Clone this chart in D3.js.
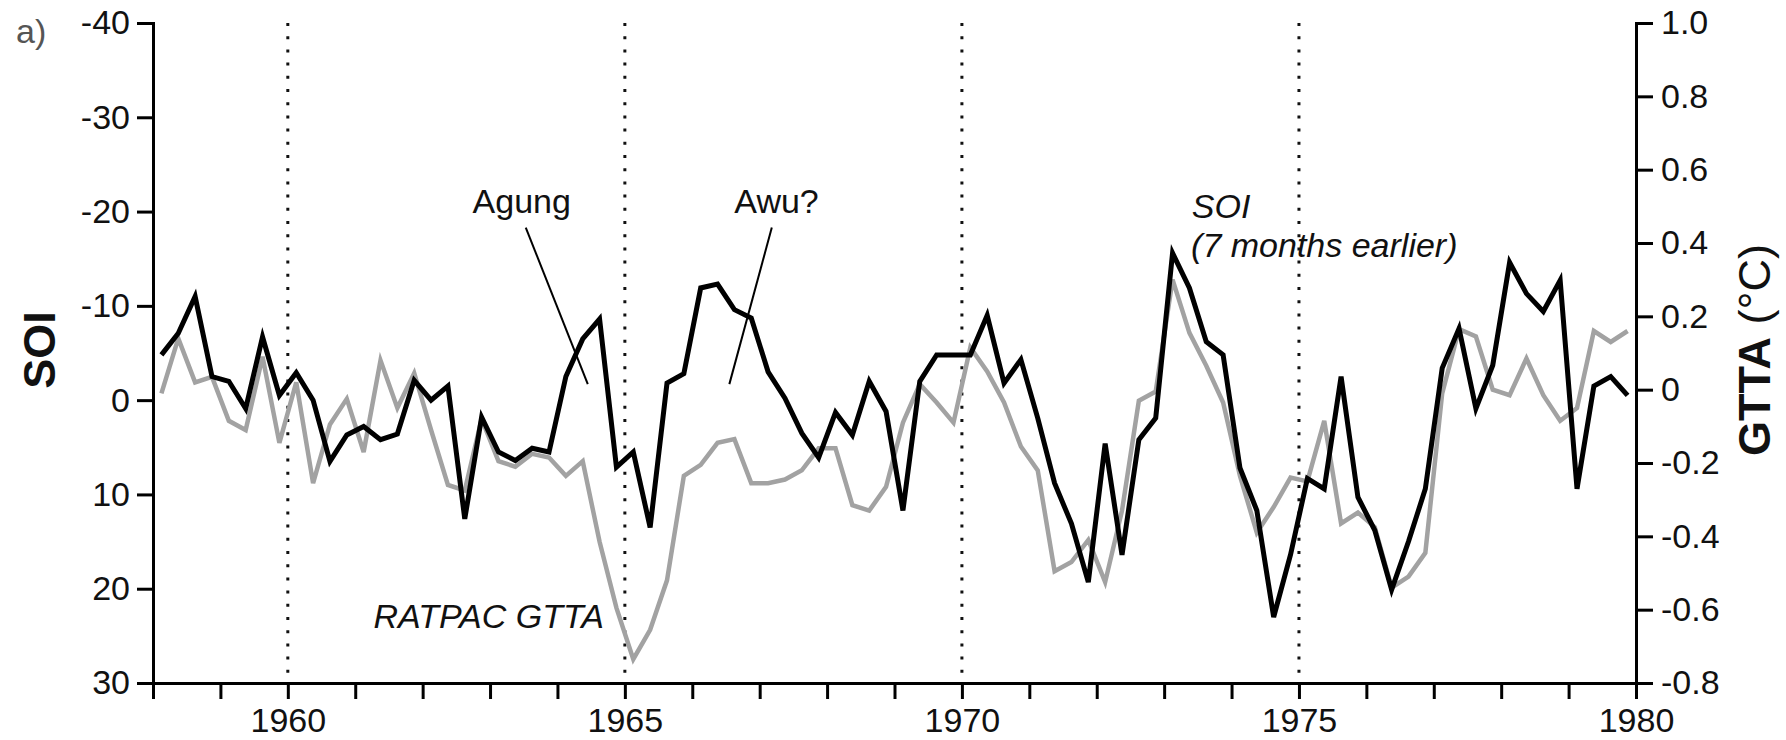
<!DOCTYPE html>
<html>
<head>
<meta charset="utf-8">
<script src="https://cdn.jsdelivr.net/npm/d3@7"></script>
<style>
  body { margin: 0; background: #fff; }
  svg text { font-family: "Liberation Sans", Arial, Helvetica, sans-serif; fill: #111; }
</style>
</head>
<body>
<svg id="chart" width="1786" height="740"></svg>
<script>

// quarterly values, 1958 Q1 .. 1979 Q4
// SOI (7 months earlier), plotted on the inverted left axis
var soi = [
  -4.8, -7.1, -11.0, -2.5,   -2.0, 0.9, -6.7, -0.5,
  -2.9, 0.0, 6.5, 3.7,       2.8, 4.2, 3.6, -2.1,
  0.0, -1.5, 12.6, 1.8,      5.5, 6.4, 5.1, 5.5,
  -2.5, -6.5, -8.6, 7.1,     5.5, 13.5, -1.8, -2.8,
  -11.9, -12.3, -9.6, -8.7,  -3.0, -0.2, 3.5, 6.1,
  1.3, 3.7, -2.0, 1.2,       11.7, -2.0, -4.8, -4.8,
  -4.8, -9.0, -1.8, -4.3,    1.9, 8.8, 13.1, 19.3,
  4.6, 16.4, 4.2, 1.9,       -15.6, -11.9, -6.2, -4.8,
  7.2, 11.7, 23.0, 16.4,     8.3, 9.4, -2.5, 10.3,
  13.8, 20.1, 15.0, 9.4,     -3.4, -7.6, 0.9, -3.7,
  -14.6, -11.3, -9.4, -12.7, 9.4, -1.5, -2.5, -0.5
];

// RATPAC global tropospheric temperature anomaly (right axis, deg C)
var gtta = [
  -0.01, 0.14, 0.02, 0.035,     -0.085, -0.11, 0.09, -0.145,
  0.02, -0.255, -0.095, -0.025, -0.17, 0.08, -0.05, 0.045,
  -0.11, -0.26, -0.275, -0.08,  -0.195, -0.21, -0.175, -0.185,
  -0.235, -0.195, -0.415, -0.595, -0.735, -0.655, -0.52, -0.235,
  -0.205, -0.145, -0.135, -0.255, -0.255, -0.245, -0.22, -0.16,
  -0.16, -0.315, -0.33, -0.265, -0.09, 0.015, -0.035, -0.09,
  0.115, 0.05, -0.035, -0.155,  -0.22, -0.495, -0.47, -0.41,
  -0.525, -0.33, -0.03, -0.005, 0.30, 0.155, 0.065, -0.035,
  -0.235, -0.39, -0.32, -0.24,  -0.25, -0.085, -0.365, -0.335,
  -0.375, -0.54, -0.51, -0.445, -0.01, 0.165, 0.145, 0.0,
  -0.015, 0.085, -0.015, -0.085, -0.05, 0.16, 0.13, 0.16
];

var yearLabels = [1960, 1965, 1970, 1975, 1980];
var soiTicks = [-40, -30, -20, -10, 0, 10, 20, 30];
var gttaTicks = [1.0, 0.8, 0.6, 0.4, 0.2, 0, -0.2, -0.4, -0.6, -0.8];
var dividerYears = [1960, 1965, 1970, 1975];

var svg = d3.select("#chart");

var x = d3.scaleLinear().domain([1958, 1980]).range([153, 1636]);
var ySoi = d3.scaleLinear().domain([-40, 30]).range([23, 683]);
var yTemp = d3.scaleLinear().domain([1.0, -0.8]).range([23, 683]);

// middle of each quarter
var quarterTime = function(i){ return 1958.125 + i * 0.25; };

// plain hyphen for negatives, like the original figure
var hyphen = function(s){ return String(s).replace("\u2212", "-"); };

// dotted year dividers
svg.selectAll("line.divider")
    .data(dividerYears)
    .enter()
    .append("line")
    .attr("class", "divider")
    .attr("x1", function(d){ return x(d); })
    .attr("x2", function(d){ return x(d); })
    .attr("y1", 23)
    .attr("y2", 674)
    .attr("stroke", "#111")
    .attr("stroke-width", 3)
    .attr("stroke-dasharray", "3,10.2");

// series
var tempLine = d3.line()
    .x(function(d, i){ return x(quarterTime(i)); })
    .y(function(d){ return yTemp(d); });

var soiLine = d3.line()
    .x(function(d, i){ return x(quarterTime(i)); })
    .y(function(d){ return ySoi(d); });

svg.append("path")
    .datum(gtta)
    .attr("d", tempLine)
    .attr("fill", "none")
    .attr("stroke", "#a2a2a2")
    .attr("stroke-width", 4.5);

svg.append("path")
    .datum(soi)
    .attr("d", soiLine)
    .attr("fill", "none")
    .attr("stroke", "#000")
    .attr("stroke-width", 5);

// axes
var xAxis = d3.axisBottom(x)
    .tickValues(d3.range(1958, 1981))
    .tickFormat(function(d){ return yearLabels.indexOf(d) > -1 ? d : ""; })
    .tickSize(16).tickSizeOuter(0).tickPadding(9);

var leftAxis = d3.axisLeft(ySoi)
    .tickValues(soiTicks)
    .tickFormat(function(d){ return hyphen(d); })
    .tickSize(16).tickSizeOuter(0).tickPadding(7);

var rightAxis = d3.axisRight(yTemp)
    .tickValues(gttaTicks)
    .tickFormat(function(d){ return d == 0 ? "0" : hyphen(d3.format(".1f")(d)); })
    .tickSize(17).tickSizeOuter(0).tickPadding(8);

var gx = svg.append("g").attr("transform", "translate(0,683)").call(xAxis);
var gl = svg.append("g").attr("transform", "translate(153,0)").call(leftAxis);
var gr = svg.append("g").attr("transform", "translate(1636,0)").call(rightAxis);

[gx, gl, gr].forEach(function(g){
    g.select(".domain").attr("stroke", "#000").attr("stroke-width", 3).attr("stroke-linecap", "square");
    g.selectAll(".tick line").attr("stroke", "#000").attr("stroke-width", 3);
    g.selectAll(".tick text").style("font-size", "34px").style("fill", "#111");
});

// axis titles
svg.append("text")
    .attr("transform", "translate(55,350) rotate(-90)")
    .attr("text-anchor", "middle")
    .style("font-size", "45px")
    .style("font-weight", "bold")
    .text("SOI");

var rt = svg.append("text")
    .attr("transform", "translate(1770,350) rotate(-90)")
    .attr("text-anchor", "middle")
    .style("font-size", "45px");
rt.append("tspan").style("font-weight", "bold").text("GTTA");
rt.append("tspan").text(" (\u00B0C)");

// panel letter
svg.append("text")
    .attr("x", 16).attr("y", 43)
    .style("font-size", "34px")
    .style("fill", "#555")
    .text("a)");

// annotations (placed in data units)
var leaders = [
    {from: [1963.53, -18.3], to: [1964.45, -1.7]},
    {from: [1967.18, -18.3], to: [1966.55, -1.7]}
];
svg.selectAll("line.leader")
    .data(leaders)
    .enter()
    .append("line")
    .attr("class", "leader")
    .attr("x1", function(d){ return x(d.from[0]); })
    .attr("y1", function(d){ return ySoi(d.from[1]); })
    .attr("x2", function(d){ return x(d.to[0]); })
    .attr("y2", function(d){ return ySoi(d.to[1]); })
    .attr("stroke", "#000")
    .attr("stroke-width", 2);

var label = function(txt, yr, v, anchor, italic){
    svg.append("text")
        .attr("x", x(yr))
        .attr("y", ySoi(v))
        .attr("text-anchor", anchor)
        .style("font-size", "34px")
        .style("font-style", italic ? "italic" : "normal")
        .text(txt);
};
label("Agung", 1963.47, -19.8, "middle", false);
label("Awu?", 1967.25, -19.8, "middle", false);
label("SOI", 1973.41, -19.3, "start", true);
label("(7 months earlier)", 1973.40, -15.2, "start", true);
label("RATPAC GTTA", 1961.27, 24.2, "start", true);

</script>
</body>
</html>
